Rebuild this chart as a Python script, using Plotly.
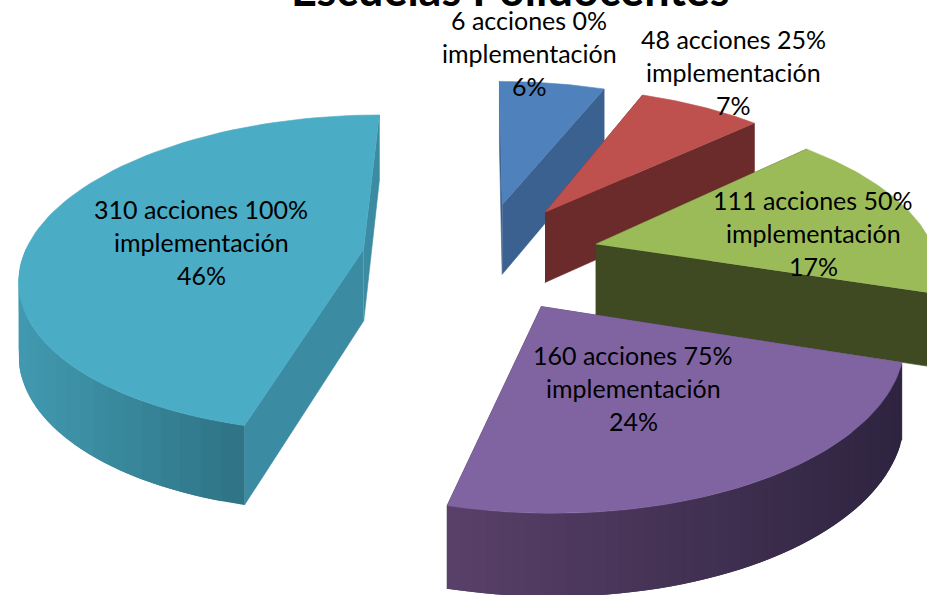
import numpy as np
import plotly.graph_objects as go

# Data
acciones = [6, 48, 111, 160, 310]
implementacion = [0, 25, 50, 75, 100]
porcentajes = [6, 7, 17, 24, 46]

# Styles
top_colors = ["#4F81BD", "#BE504D", "#9BBB59", "#8064A2", "#4BACC6"]
radial_colors = ["#3A618F", "#6B2B2B", "#3F4A22", "#523C62", "#3B8BA2"]
arc_left = ["#3A618F", "#6B2B2B", "#3F4A22", "#5A4169", "#429AB1"]
arc_right = ["#3A618F", "#6B2B2B", "#3F4A22", "#2E2440", "#2F7385"]
label_xy = [(529, 20), (733, 39), (813, 200), (633, 355), (201, 209)]
DRAW_ORDER = [0, 1, 2, 3, 4]

# Projection of the exploded pie
CX, CY = 481, 256
A, B, K, H = 340, 157, 0.155, 72
EXPLODE = 0.35


def project(X, Y, Z=0.0):
    s = 1 / (1 + K * Y)
    return CX + A * X * s, CY - B * Y * s + H * Z * s ** 0.65


def hex_rgb(c):
    return np.array([int(c[i:i + 2], 16) for i in (1, 3, 5)], float)


def poly(xs, ys, color):
    return go.Scatter(x=list(xs), y=list(ys), mode="lines", fill="toself",
                      fillcolor=color, line=dict(color=color, width=0.6),
                      hoverinfo="skip", showlegend=False)


fig = go.Figure()
total = sum(porcentajes)
edges = np.concatenate([[0], np.cumsum(porcentajes)]) / total * 2 * np.pi

for i in DRAW_ORDER:
    t0, t1 = edges[i], edges[i + 1]
    mid = (t0 + t1) / 2
    ox, oy = EXPLODE * np.sin(mid), EXPLODE * np.cos(mid)
    th = np.linspace(t0, t1, 80)
    ax, ay = ox + np.sin(th), oy + np.cos(th)
    # radial walls
    for t in (t0, t1):
        ex, ey = ox + np.sin(t), oy + np.cos(t)
        p = [project(ox, oy), project(ex, ey), project(ex, ey, 1), project(ox, oy, 1)]
        fig.add_trace(poly([q[0] for q in p], [q[1] for q in p], radial_colors[i]))
    # outer wall with shading: only the part that faces the viewer
    ths = np.linspace(t0, t1, 49)
    ths = ths[np.cos(ths) < 0.05]
    if len(ths) > 1:
        xs_screen = [project(ox + np.sin(t), oy + np.cos(t))[0] for t in ths]
        lo, hi = min(xs_screen), max(xs_screen)
        cl, cr = hex_rgb(arc_left[i]), hex_rgb(arc_right[i])
        # each band reaches over the next so that no seams show
        for j in range(len(ths) - 1):
            a, b = ths[j], ths[min(j + 2, len(ths) - 1)]
            seg = np.linspace(a, b, 4)
            up = [project(ox + np.sin(t), oy + np.cos(t)) for t in seg]
            dn = [project(ox + np.sin(t), oy + np.cos(t), 1) for t in seg[::-1]]
            p = up + dn
            f = ((xs_screen[j] + xs_screen[j + 1]) / 2 - lo) / max(hi - lo, 1)
            c = cl + (cr - cl) * f
            col = "rgb(%d,%d,%d)" % tuple(c)
            fig.add_trace(go.Scatter(x=[q[0] for q in p], y=[q[1] for q in p], mode="lines",
                                     fill="toself", fillcolor=col, line=dict(width=0, color=col),
                                     hoverinfo="skip", showlegend=False))
    # top face
    px = [project(ox, oy)[0]] + [project(x, y)[0] for x, y in zip(ax, ay)]
    py = [project(ox, oy)[1]] + [project(x, y)[1] for x, y in zip(ax, ay)]
    fig.add_trace(poly(px, py, top_colors[i]))

FONT = "Lato, Carlito, Calibri, sans-serif"
annotations = []
annotations.append(dict(xref="paper", yref="paper", x=510 / 927, y=1 + 11 / 595,
                        text="<b>Escuelas Polidocentes</b>", showarrow=False,
                        xanchor="center", yanchor="middle",
                        font=dict(family=FONT, size=45, color="#000000")))
for n, imp, pct, (lx, ly) in zip(acciones, implementacion, porcentajes, label_xy):
    lines = [f"{n} acciones {imp}%", "implementación", f"{pct}%"]
    for k, line in enumerate(lines):
        annotations.append(dict(x=lx, y=ly + 33 * k, text=line, showarrow=False,
                                xanchor="center", yanchor="middle",
                                font=dict(family=FONT, size=25, color="#000000")))

fig.update_layout(
    width=927, height=595, margin=dict(l=0, r=0, t=0, b=0),
    paper_bgcolor="white", plot_bgcolor="white", showlegend=False,
    xaxis=dict(range=[0, 927], visible=False, fixedrange=True),
    yaxis=dict(range=[595, 0], visible=False, fixedrange=True),
    annotations=annotations,
)
fig.write_html("out.html", config={"displayModeBar": False},
               post_script="document.body.style.margin='0';document.body.style.overflow='hidden';")
